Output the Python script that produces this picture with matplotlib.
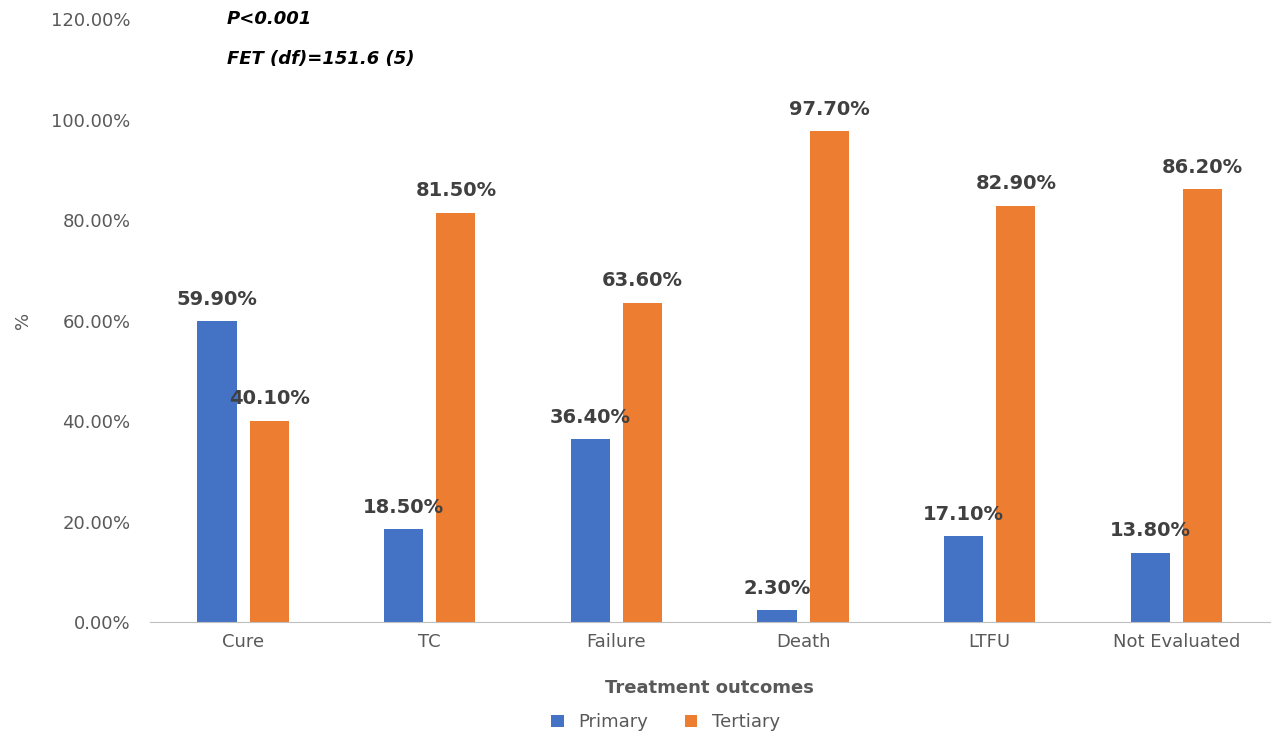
import matplotlib.pyplot as plt
import numpy as np

categories = ['Cure', 'TC', 'Failure', 'Death', 'LTFU', 'Not Evaluated']
primary = [59.9, 18.5, 36.4, 2.3, 17.1, 13.8]
tertiary = [40.1, 81.5, 63.6, 97.7, 82.9, 86.2]

fig = plt.figure(figsize=(12.8, 7.44), dpi=100)
ax = fig.add_axes([0.117, 0.164, 0.875, 0.81])

x = np.arange(len(categories))
w = 0.21
off = 0.14
b1 = ax.bar(x - off, primary, w, color='#4472C4', label='Primary')
b2 = ax.bar(x + off, tertiary, w, color='#ED7D31', label='Tertiary')

for bars, vals in ((b1, primary), (b2, tertiary)):
    for b, v in zip(bars, vals):
        ax.text(b.get_x() + b.get_width() / 2, v + 2.5, '%.2f%%' % v,
                ha='center', va='bottom', fontsize=14, fontweight='bold', color='#404040')

ax.set_xlim(-0.5, len(categories) - 0.5)
ax.set_ylim(0, 120)
ax.set_yticks(np.arange(0, 121, 20))
ax.set_yticklabels(['%.2f%%' % t for t in np.arange(0, 121, 20)])
ax.set_xticks(x)
ax.set_xticklabels(categories)
ax.tick_params(axis='both', length=0, labelsize=13, colors='#595959', pad=8)
ax.tick_params(axis='y', pad=14)
for s in ['top', 'right', 'left']:
    ax.spines[s].set_visible(False)
ax.spines['bottom'].set_color('#BFBFBF')
ax.set_ylabel('%', fontsize=13, color='#595959')
ax.yaxis.set_label_coords(-0.105, 0.5)
ax.set_xlabel('Treatment outcomes', fontsize=13, fontweight='bold', color='#595959', labelpad=20)

fig.text(0.177, 0.975, 'P<0.001', fontsize=13, fontweight='bold', style='italic', va='center')
fig.text(0.177, 0.921, 'FET (df)=151.6 (5)', fontsize=13, fontweight='bold', style='italic', va='center')

fig.legend(loc='lower center', bbox_to_anchor=(0.52, -0.005), ncol=2, frameon=False,
           fontsize=13, handlelength=0.7, handleheight=0.7, columnspacing=2, labelcolor='#595959')

fig.savefig('out.png', dpi=100)
